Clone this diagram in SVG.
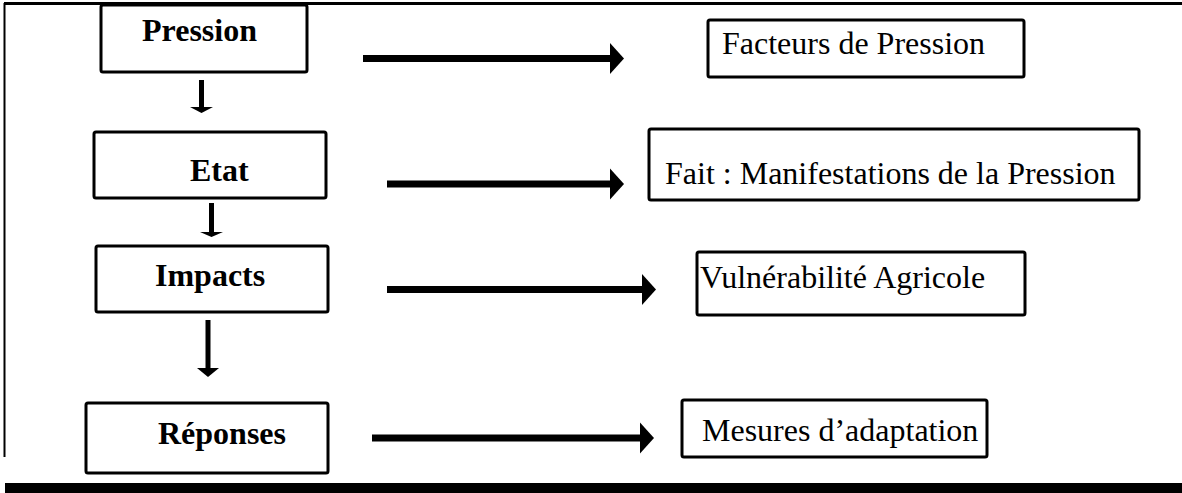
<svg xmlns="http://www.w3.org/2000/svg" width="1182" height="493" viewBox="0 0 1182 493">
<style>
.box{fill:#fff;stroke:#000;stroke-width:3}
.lt{font-family:"Liberation Serif","Times New Roman",serif;font-weight:bold;font-size:32px;fill:#000}
.rt{font-family:"Liberation Serif","Times New Roman",serif;font-size:32px;fill:#000}
.shaft{stroke:#000;stroke-width:7;fill:none}
.vshaft{stroke:#000;stroke-width:5;fill:none}
.head{fill:#000}
</style>
<rect x="0" y="0" width="1182" height="493" fill="#fff"/>
<g id="frame">
<line x1="4" y1="3.5" x2="1182" y2="3.5" stroke="#000" stroke-width="3"/>
<line x1="4.5" y1="3" x2="4.5" y2="457" stroke="#000" stroke-width="2"/>
<rect x="5" y="483" width="1177" height="10" fill="#000"/>
</g>
<g id="pression"><rect class="box" x="101" y="5" width="206" height="67" rx="2"/><text class="lt" x="142" y="41">Pression</text></g>
<g id="etat"><rect class="box" x="94" y="132" width="232" height="66" rx="2"/><text class="lt" x="190" y="181">Etat</text></g>
<g id="impacts"><rect class="box" x="96" y="246" width="232" height="66" rx="2"/><text class="lt" x="155" y="286">Impacts</text></g>
<g id="reponses"><rect class="box" x="86" y="403" width="242" height="70" rx="2"/><text class="lt" x="158" y="444">Réponses</text></g>
<g id="facteurs"><rect class="box" x="708" y="20" width="316" height="57" rx="2"/><text class="rt" x="722" y="54">Facteurs de Pression</text></g>
<g id="fait"><rect class="box" x="649" y="129" width="490" height="71" rx="2"/><text class="rt" x="665" y="184">Fait : Manifestations de la Pression</text></g>
<g id="vulnerabilite"><rect class="box" x="697" y="252" width="328" height="63" rx="2"/><text class="rt" x="700" y="288">Vulnérabilité Agricole</text></g>
<g id="mesures"><rect class="box" x="682" y="400" width="305" height="57" rx="2"/><text class="rt" x="702" y="441">Mesures d’adaptation</text></g>
<g id="connectors">
<line class="vshaft" x1="201.5" y1="80" x2="201.5" y2="108"/><polygon class="head" points="190,107 213,107 201.5,113"/>
<line class="vshaft" x1="211.5" y1="203" x2="211.5" y2="233"/><polygon class="head" points="200,232 223,232 211.5,237"/>
<line class="vshaft" x1="208" y1="320" x2="208" y2="369"/><polygon class="head" points="197,368 219,368 208,377"/>
<line class="shaft" x1="363" y1="58.5" x2="611" y2="58.5"/><polygon class="head" points="610,43 624,58.5 610,74"/>
<line class="shaft" x1="387" y1="184" x2="611" y2="184"/><polygon class="head" points="610,168.5 624,184 610,199.5"/>
<line class="shaft" x1="387" y1="289.5" x2="643" y2="289.5"/><polygon class="head" points="642,274 656,289.5 642,305"/>
<line class="shaft" x1="372" y1="438" x2="641" y2="438"/><polygon class="head" points="640,422.5 654,438 640,453.5"/>
</g>
</svg>
